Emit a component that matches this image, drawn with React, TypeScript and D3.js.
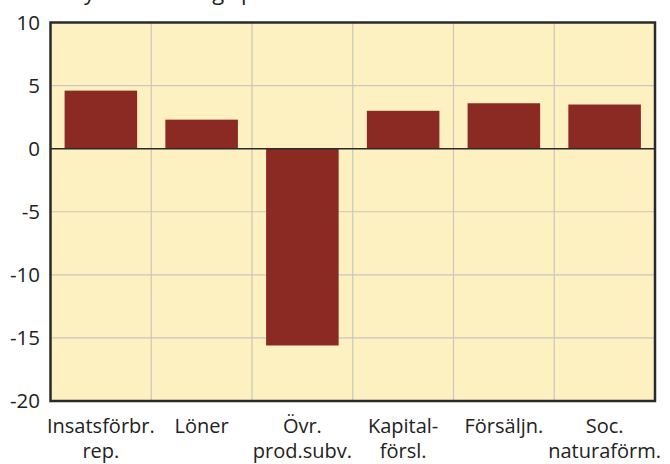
import React, { useEffect, useRef } from 'react';
import * as d3 from 'd3';

// category labels (two lines each)
const categories = [
  ['Insatsförbr.', 'rep.'],
  ['Löner'],
  ['Övr.', 'prod.subv.'],
  ['Kapital-', 'försl.'],
  ['Försäljn.'],
  ['Soc.', 'naturaförm.'],
];
const values = [4.6, 2.3, -15.6, 3.0, 3.6, 3.5];
const yTicks = [10, 5, 0, -5, -10, -15, -20];
const title = 'Volymförändring i procent';

const App = () => {
  const svgRef = useRef<SVGSVGElement>(null);

  useEffect(() => {
    const W = 670;
    const H = 464;
    const margin = { top: 22.5, right: 15, bottom: 63, left: 50.5 };
    const font = '"Open Sans", sans-serif';

    const svg = d3.select(svgRef.current).attr('width', W).attr('height', H);
    svg.selectAll('*').remove();

    const x = d3.scaleBand<number>()
      .domain(categories.map((d, i) => i))
      .range([margin.left, W - margin.right])
      .paddingInner(0.28)
      .paddingOuter(0.14);

    const y = d3.scaleLinear()
      .domain([-20, 10])
      .range([H - margin.bottom, margin.top]);

    // title, mostly above the top edge (only descenders show, as in the source)
    svg.append('text')
      .attr('x', 52)
      .attr('y', -0.5)
      .attr('font-family', font)
      .attr('font-size', 22)
      .attr('fill', '#222')
      .text(title);

    // background
    svg.append('rect')
      .attr('x', margin.left)
      .attr('y', margin.top)
      .attr('width', W - margin.right - margin.left)
      .attr('height', y(-20) - y(10))
      .attr('fill', '#fef1c1');

    // horizontal grid
    svg.append('g')
      .selectAll('line')
      .data(yTicks.filter(t => t !== 0 && t !== 10 && t !== -20))
      .enter()
      .append('line')
      .attr('x1', margin.left)
      .attr('x2', W - margin.right)
      .attr('y1', d => y(d))
      .attr('y2', d => y(d))
      .attr('stroke', '#c9c6bd')
      .attr('stroke-width', 1.2);

    // vertical grid at category boundaries
    const step = x.step();
    svg.append('g')
      .selectAll('line')
      .data(d3.range(1, categories.length))
      .enter()
      .append('line')
      .attr('x1', i => margin.left + i * step)
      .attr('x2', i => margin.left + i * step)
      .attr('y1', margin.top)
      .attr('y2', y(-20))
      .attr('stroke', '#c9c6bd')
      .attr('stroke-width', 1.2);

    // bars
    svg.append('g')
      .selectAll('rect')
      .data(values)
      .enter()
      .append('rect')
      .attr('x', (d, i) => x(i)!)
      .attr('y', d => y(Math.max(0, d)))
      .attr('width', x.bandwidth())
      .attr('height', d => Math.abs(y(d) - y(0)))
      .attr('fill', '#8b2923');

    // zero line
    svg.append('line')
      .attr('x1', margin.left)
      .attr('x2', W - margin.right)
      .attr('y1', y(0))
      .attr('y2', y(0))
      .attr('stroke', '#2a2a2a')
      .attr('stroke-width', 1.5);

    // frame
    svg.append('rect')
      .attr('x', margin.left)
      .attr('y', margin.top)
      .attr('width', W - margin.right - margin.left)
      .attr('height', y(-20) - y(10))
      .attr('fill', 'none')
      .attr('stroke', '#2a2a2a')
      .attr('stroke-width', 2.5);

    // y tick labels
    svg.append('g')
      .selectAll('text')
      .data(yTicks)
      .enter()
      .append('text')
      .attr('x', 40)
      .attr('y', d => y(d))
      .attr('dy', '0.36em')
      .attr('text-anchor', 'end')
      .attr('font-family', font)
      .attr('font-size', 20.5)
      .attr('fill', '#222')
      .text(d => String(d));

    // x labels, one text per line
    const lines = categories.flatMap((lbl, i) => lbl.map((t, j) => ({ i, j, t })));
    svg.append('g')
      .selectAll('text')
      .data(lines)
      .enter()
      .append('text')
      .attr('x', d => x(d.i)! + x.bandwidth() / 2)
      .attr('y', d => H - margin.bottom + 32 + d.j * 25)
      .attr('text-anchor', 'middle')
      .attr('font-family', font)
      .attr('font-size', 20)
      .attr('fill', '#222')
      .text(d => d.t);
  }, []);

  return (
    <svg ref={svgRef} style={{ position: 'absolute', left: 0, top: 0 }}></svg>
  );
};

export default App;
